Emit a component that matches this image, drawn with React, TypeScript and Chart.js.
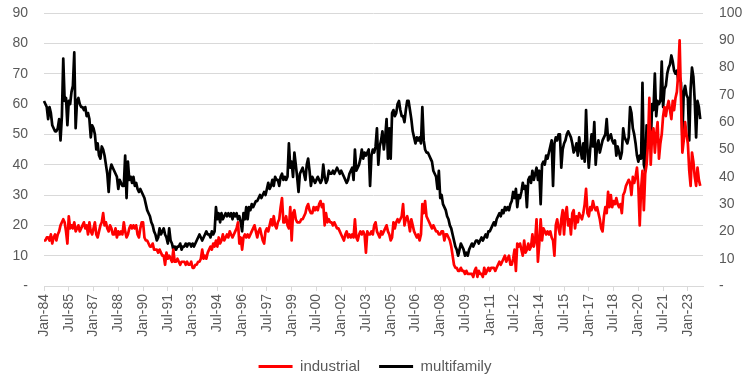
import { useEffect, useRef } from 'react';
import { Chart, registerables } from 'chart.js';

Chart.register(...registerables);

const MONTH_NAMES = ['Jan', 'Feb', 'Mar', 'Apr', 'May', 'Jun', 'Jul', 'Aug', 'Sep', 'Oct', 'Nov', 'Dec'];
const FIRST_YEAR = 1984;
const LAST_YEAR = 2023;
const TICK_EVERY = 18;

const categories: string[] = [];
for (let y = FIRST_YEAR; y <= LAST_YEAR; y++) {
  for (let m = 0; m < 12; m++) {
    categories.push(`${MONTH_NAMES[m]}-${String(y % 100).padStart(2, '0')}`);
  }
}

const industrial: number[] = [
  15, 15, 16, 16, 15, 17, 14, 16, 17, 15, 17, 18, // 1984
  20, 21, 22, 21, 18, 14, 23, 19, 20, 19, 21, 18, // 1985
  19, 20, 18, 19, 20, 21, 19, 20, 17, 21, 18, 17, // 1986
  19, 21, 17, 16, 18, 20, 21, 24, 20, 21, 19, 18, // 1987
  20, 19, 17, 17, 19, 16, 18, 17, 18, 17, 21, 18, // 1988
  16, 17, 19, 20, 19, 20, 19, 20, 17, 16, 19, 21, // 1989
  21, 16, 15, 15, 14, 13, 13, 14, 12, 12, 12, 11, // 1990
  12, 11, 10, 10, 7, 11, 9, 10, 9, 8, 12, 8, // 1991
  8, 9, 8, 7, 8, 8, 8, 7, 8, 7, 7, 8, // 1992
  6, 6, 7, 7, 8, 8, 9, 12, 9, 10, 9, 11, // 1993
  12, 13, 12, 14, 13, 15, 13, 16, 14, 15, 17, 15, // 1994
  16, 17, 16, 18, 17, 16, 17, 18, 19, 21, 14, 16, // 1995
  12, 16, 17, 16, 17, 16, 17, 18, 19, 20, 18, 16, // 1996
  18, 19, 17, 15, 14, 18, 19, 18, 20, 22, 20, 23, // 1997
  20, 19, 21, 22, 26, 29, 21, 21, 23, 20, 19, 26, // 1998
  15, 24, 25, 22, 21, 21, 21, 22, 22, 23, 24, 26, // 1999
  27, 25, 24, 24, 26, 25, 26, 25, 27, 28, 26, 27, // 2000
  20, 24, 21, 22, 21, 21, 20, 21, 20, 19, 19, 18, // 2001
  17, 16, 15, 17, 18, 16, 17, 16, 17, 16, 22, 16, // 2002
  15, 17, 18, 17, 18, 17, 11, 18, 17, 17, 18, 17, // 2003
  20, 21, 18, 17, 16, 18, 17, 18, 19, 20, 18, 17, // 2004
  15, 16, 21, 19, 21, 22, 21, 22, 23, 27, 20, 22, // 2005
  23, 21, 18, 22, 20, 18, 17, 16, 17, 15, 17, 27, // 2006
  24, 28, 23, 22, 21, 20, 19, 20, 19, 18, 18, 17, // 2007
  17, 18, 18, 15, 17, 17, 16, 15, 13, 10, 7, 6, // 2008
  6, 5, 5, 6, 5, 5, 4, 5, 4, 4, 4, 4, // 2009
  3, 5, 6, 3, 5, 4, 4, 3, 6, 4, 5, 6, // 2010
  5, 6, 6, 6, 5, 6, 7, 8, 7, 8, 9, 10, // 2011
  8, 9, 10, 7, 7, 9, 12, 5, 14, 13, 14, 12, // 2012
  10, 15, 11, 12, 14, 12, 13, 17, 13, 15, 22, 8, // 2013
  14, 22, 15, 19, 18, 17, 18, 17, 18, 16, 15, 10, // 2014
  20, 22, 19, 17, 22, 25, 17, 24, 26, 20, 22, 17, // 2015
  24, 25, 19, 23, 21, 24, 23, 22, 24, 27, 32, 24, // 2016
  23, 26, 25, 28, 26, 25, 26, 24, 22, 19, 18, 23, // 2017
  26, 24, 31, 26, 30, 26, 28, 27, 29, 27, 26, 27, // 2018
  24, 30, 31, 33, 34, 35, 34, 30, 36, 34, 36, 39, // 2019
  33, 20, 32, 38, 25, 37, 40, 47, 62, 40, 50, 52, // 2020
  44, 50, 54, 42, 47, 50, 56, 59, 56, 59, 61, 58, // 2021
  55, 61, 58, 62, 64, 70, 81, 62, 44, 48, 54, 50, // 2022
  47, 38, 33, 44, 41, 36, 33, 39, 35, 33, // 2023
];

const multifamily: number[] = [
  61, 60, 59, 55, 59, 57, 53, 52, 51, 51, 52, 55, // 1984
  48, 56, 75, 61, 62, 53, 61, 60, 64, 66, 77, 52, // 1985
  61, 62, 60, 59, 59, 58, 59, 56, 57, 55, 49, 53, // 1986
  52, 50, 45, 47, 43, 42, 46, 45, 43, 40, 37, 31, // 1987
  38, 40, 39, 38, 37, 36, 32, 35, 34, 33, 33, 43, // 1988
  29, 41, 35, 36, 34, 36, 33, 34, 32, 31, 32, 31, // 1989
  30, 29, 27, 25, 24, 23, 21, 20, 18, 17, 15, 16, // 1990
  19, 17, 18, 19, 17, 16, 14, 19, 15, 14, 12, 13, // 1991
  12, 13, 13, 14, 12, 13, 13, 14, 13, 14, 14, 13, // 1992
  14, 13, 14, 15, 16, 17, 16, 15, 16, 17, 18, 17, // 1993
  17, 16, 18, 17, 18, 26, 22, 24, 21, 24, 22, 23, // 1994
  24, 23, 24, 23, 24, 22, 24, 23, 24, 22, 23, 21, // 1995
  18, 24, 22, 26, 22, 26, 25, 27, 26, 27, 28, 28, // 1996
  29, 30, 29, 30, 31, 30, 32, 34, 32, 33, 35, 33, // 1997
  36, 35, 35, 33, 36, 37, 35, 36, 35, 36, 47, 39, // 1998
  41, 36, 44, 40, 36, 31, 37, 38, 39, 37, 35, 40, // 1999
  42, 38, 33, 36, 35, 34, 35, 36, 35, 34, 35, 40, // 2000
  36, 34, 35, 38, 37, 37, 38, 37, 38, 39, 38, 37, // 2001
  38, 37, 36, 35, 34, 35, 37, 38, 39, 35, 45, 38, // 2002
  39, 40, 42, 45, 42, 44, 43, 44, 45, 33, 43, 45, // 2003
  44, 46, 52, 40, 46, 48, 51, 45, 49, 55, 42, 52, // 2004
  42, 57, 58, 56, 57, 60, 61, 58, 56, 56, 54, 58, // 2005
  61, 61, 58, 55, 51, 49, 47, 49, 48, 49, 47, 59, // 2006
  48, 45, 44, 44, 43, 42, 41, 38, 37, 36, 32, 38, // 2007
  29, 30, 27, 26, 25, 23, 22, 20, 19, 17, 15, 13, // 2008
  12, 10, 12, 14, 13, 12, 10, 11, 10, 12, 13, 14, // 2009
  13, 14, 15, 15, 14, 15, 16, 15, 16, 17, 16, 18, // 2010
  18, 19, 20, 21, 20, 22, 23, 24, 23, 25, 24, 26, // 2011
  25, 26, 25, 27, 28, 31, 29, 32, 26, 30, 29, 31, // 2012
  34, 32, 33, 26, 35, 36, 34, 38, 35, 37, 39, 35, // 2013
  38, 27, 40, 41, 40, 43, 42, 44, 46, 48, 33, 47, // 2014
  49, 48, 50, 50, 39, 45, 47, 48, 50, 51, 50, 49, // 2015
  47, 44, 45, 47, 43, 49, 45, 42, 47, 41, 58, 45, // 2016
  39, 45, 50, 46, 54, 40, 46, 48, 44, 46, 48, 49, // 2017
  50, 55, 48, 49, 50, 48, 47, 48, 43, 46, 44, 42, // 2018
  44, 52, 49, 48, 47, 49, 59, 57, 52, 50, 47, 43, // 2019
  41, 43, 42, 67, 40, 38, 53, 52, 50, 46, 60, 58, // 2020
  70, 56, 61, 60, 61, 74, 59, 65, 66, 70, 72, 73, // 2021
  76, 74, 71, 70, 71, 68, 69, 67, 49, 64, 66, 63, // 2022
  62, 48, 65, 72, 69, 61, 49, 61, 59, 55, // 2023
];

const LEFT_MAX = 90;
const RIGHT_MAX = 100;
const STEP = 10;

const GRID = '#d9d9d9';
const TEXT = '#595959';
const FONT = "'Liberation Sans', Arial, sans-serif";

export default function App() {
  const canvasRef = useRef<HTMLCanvasElement | null>(null);

  useEffect(() => {
    if (!canvasRef.current) return;
    const zeroDash = (v: any) => (Number(v) === 0 ? '-' : String(v));
    const chart = new Chart(canvasRef.current, {
      type: 'line',
      data: {
        labels: categories,
        datasets: [
          {
            label: 'industrial',
            data: industrial,
            borderColor: '#ff0000',
            backgroundColor: '#ff0000',
            borderWidth: 2.7,
            pointRadius: 0,
            tension: 0,
            yAxisID: 'y',
            borderJoinStyle: 'round',
          },
          {
            label: 'multifamily',
            data: multifamily,
            borderColor: '#000000',
            backgroundColor: '#000000',
            borderWidth: 2.7,
            pointRadius: 0,
            tension: 0,
            yAxisID: 'y',
            borderJoinStyle: 'round',
          },
        ],
      },
      options: {
        responsive: false,
        animation: false,
        devicePixelRatio: 1,
        layout: { padding: { top: 13, left: 0, right: 0, bottom: -4 } },
        font: { family: FONT },
        plugins: {
          tooltip: { enabled: false },
          legend: {
            position: 'bottom',
            labels: {
              boxWidth: 34,
              boxHeight: 3,
              padding: 19,
              color: TEXT,
              font: { size: 15, family: FONT },
              generateLabels: (c: any) =>
                Chart.defaults.plugins.legend.labels.generateLabels(c).map((l: any) => ({
                  ...l,
                  lineWidth: 0,
                  fillStyle: l.strokeStyle,
                })),
            },
          },
        },
        scales: {
          x: {
            type: 'category',
            offset: false,
            grid: { display: true, drawOnChartArea: false, drawTicks: true, tickLength: 5, color: GRID },
            border: { display: true, color: GRID },
            ticks: {
              autoSkip: false,
              minRotation: 90,
              maxRotation: 90,
              color: TEXT,
              padding: 3,
              font: { size: 14, family: FONT },
            },
            afterBuildTicks: (s: any) => {
              s.ticks = s.ticks.filter((t: any) => t.value % TICK_EVERY === 0);
            },
            afterFit: (s: any) => {
              s.height = 54;
            },
          },
          y: {
            position: 'left',
            min: 0,
            max: LEFT_MAX,
            ticks: { stepSize: STEP, padding: 16, color: TEXT, font: { size: 14, family: FONT }, callback: zeroDash },
            grid: { color: GRID, drawTicks: false },
            border: { display: false },
            afterFit: (s: any) => {
              s.width = 44;
              s.paddingTop = 0;
              s.paddingBottom = 0;
            },
          },
          y1: {
            position: 'right',
            min: 0,
            max: RIGHT_MAX,
            ticks: { stepSize: STEP, padding: 16, color: TEXT, font: { size: 14, family: FONT }, callback: zeroDash },
            grid: { drawOnChartArea: false, drawTicks: false },
            border: { display: false },
            afterFit: (s: any) => {
              s.width = 47;
              s.paddingTop = 0;
              s.paddingBottom = 0;
            },
          },
        },
      },
    } as any);
    return () => chart.destroy();
  }, []);

  return (
    <div style={{ position: 'fixed', left: 0, top: 0, width: 750, height: 380, background: '#fff' }}>
      <canvas ref={canvasRef} width={750} height={380} />
    </div>
  );
}
